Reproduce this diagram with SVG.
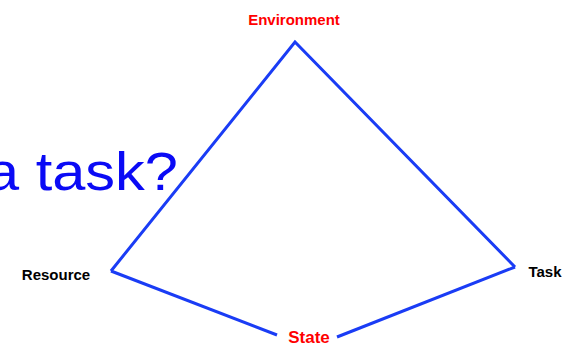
<svg xmlns="http://www.w3.org/2000/svg" width="564" height="347" viewBox="0 0 564 347">
<style>
.lbl{font-family:"Liberation Sans",Arial,sans-serif;font-size:15px;font-weight:bold;}
.red{fill:#ff0000;}
.blk{fill:#000000;}
.edge{stroke:#1a3cf5;stroke-width:3;fill:none;stroke-linecap:butt;}
</style>
<rect width="564" height="347" fill="#ffffff"/>
<text x="-14" y="190" font-family="Liberation Sans,Arial,sans-serif" font-size="54" fill="#0a0af5" textLength="192" lengthAdjust="spacingAndGlyphs">a task?</text>
<g id="connectors">
<path class="edge" d="M111,271 L295,42 L515,267"/>
<path class="edge" d="M111,271 L277,335"/>
<path class="edge" d="M337,337 L515,267"/>
</g>
<g id="environment"><text class="lbl red" x="294" y="25" text-anchor="middle">Environment</text></g>
<g id="resource"><text class="lbl blk" x="56" y="280" text-anchor="middle">Resource</text></g>
<g id="task"><text class="lbl blk" x="545" y="277" text-anchor="middle">Task</text></g>
<g id="state"><text class="lbl red" x="309" y="343" text-anchor="middle" style="font-size:17px">State</text></g>
</svg>
